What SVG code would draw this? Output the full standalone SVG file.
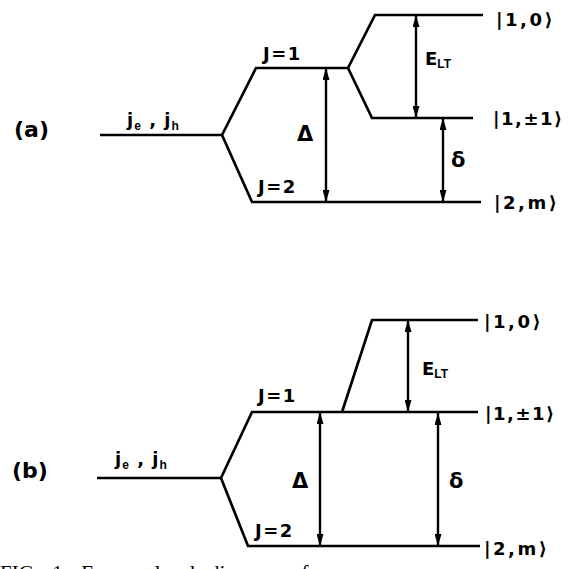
<svg xmlns="http://www.w3.org/2000/svg" width="568" height="569" viewBox="0 0 568 569">
<defs>
<marker id="ah" viewBox="0 0 12 7" refX="12" refY="3.5" markerUnits="userSpaceOnUse" markerWidth="12" markerHeight="7" orient="auto-start-reverse">
<path d="M0,0 L12,3.5 L0,7 z" fill="#000"/>
</marker>
<style>
.lv{fill:none;stroke:#000;stroke-width:2.7;stroke-linejoin:miter;stroke-linecap:butt}
.ar{fill:none;stroke:#000;stroke-width:2.4;marker-start:url(#ah);marker-end:url(#ah)}
.t{font-family:"DejaVu Sans","Liberation Sans",sans-serif;font-weight:bold;font-size:18px;fill:#000}
.J{letter-spacing:1.5px}
.g{font-size:21px}
.p{font-size:22px}
.k{font-family:"DejaVu Sans","Liberation Sans",sans-serif;font-weight:bold;font-size:18px;fill:#000;letter-spacing:2.5px}
.k2{letter-spacing:1.5px}
.s{font-size:12px;font-family:"Liberation Sans",sans-serif}
.cap{font-family:"Liberation Serif",serif;font-size:21px;fill:#000}
</style>
</defs>
<rect width="568" height="569" fill="#fff"/>

<!-- Panel (a) -->
<g id="a-label"><text class="t p" x="14" y="137">(a)</text></g>
<g id="a-jejh">
<path class="lv" d="M100,135 H222"/>
<text class="t" x="127" y="126" font-size="20" letter-spacing="1">j<tspan class="s" dy="4">e</tspan><tspan dy="-4"> , j</tspan><tspan class="s" dy="4">h</tspan></text>
</g>
<g id="a-J1">
<path class="lv" d="M222,135 L256,68 H348"/>
<text class="t J" x="263" y="60">J=1</text>
</g>
<g id="a-J2">
<path class="lv" d="M222,135 L252,202 H481"/>
<text class="t J" x="258" y="193">J=2</text>
<text class="k" x="494" y="209">|2,m⟩</text>
</g>
<g id="a-10">
<path class="lv" d="M348,68 L375,15 H483"/>
<text class="k" x="496" y="26">|1,0⟩</text>
</g>
<g id="a-11">
<path class="lv" d="M348,68 L372,118 H473"/>
<text class="k k2" x="493" y="125">|1,±1⟩</text>
</g>
<g id="a-labels">
<text class="t g" x="297" y="141">Δ</text>
<text class="t" x="425" y="65">E<tspan class="s" dy="3">LT</tspan></text>
<text class="t g" x="451" y="167">δ</text>
</g>

<!-- Panel (b) -->
<g id="b-label"><text class="t p" x="12" y="478">(b)</text></g>
<g id="b-jejh">
<path class="lv" d="M97,478 H221"/>
<text class="t" x="115" y="465" font-size="20" letter-spacing="1">j<tspan class="s" dy="4">e</tspan><tspan dy="-4"> , j</tspan><tspan class="s" dy="4">h</tspan></text>
</g>
<g id="b-J1">
<path class="lv" d="M221,478 L252,412 H478"/>
<text class="t J" x="258" y="402">J=1</text>
<text class="k k2" x="485" y="420">|1,±1⟩</text>
</g>
<g id="b-J2">
<path class="lv" d="M221,478 L248,546 H480"/>
<text class="t J" x="255" y="537">J=2</text>
<text class="k" x="484" y="555">|2,m⟩</text>
</g>
<g id="b-10">
<path class="lv" d="M342,412 L372,320 H478"/>
<text class="k" x="484" y="328">|1,0⟩</text>
</g>
<g id="b-labels">
<text class="t g" x="292" y="488">Δ</text>
<text class="t" x="422" y="375">E<tspan class="s" dy="3">LT</tspan></text>
<text class="t g" x="449" y="488">δ</text>
</g>

<g id="connectors">
<path class="ar" d="M326,68 V202"/>
<path class="ar" d="M416,15 V118"/>
<path class="ar" d="M443,118 V202"/>
<path class="ar" d="M320,412 V546"/>
<path class="ar" d="M408,320 V412"/>
<path class="ar" d="M438,413 V546"/>
</g>

<text class="cap" x="0" y="580" word-spacing="8">FIG. 1.  Energy level diagram of</text>
</svg>
